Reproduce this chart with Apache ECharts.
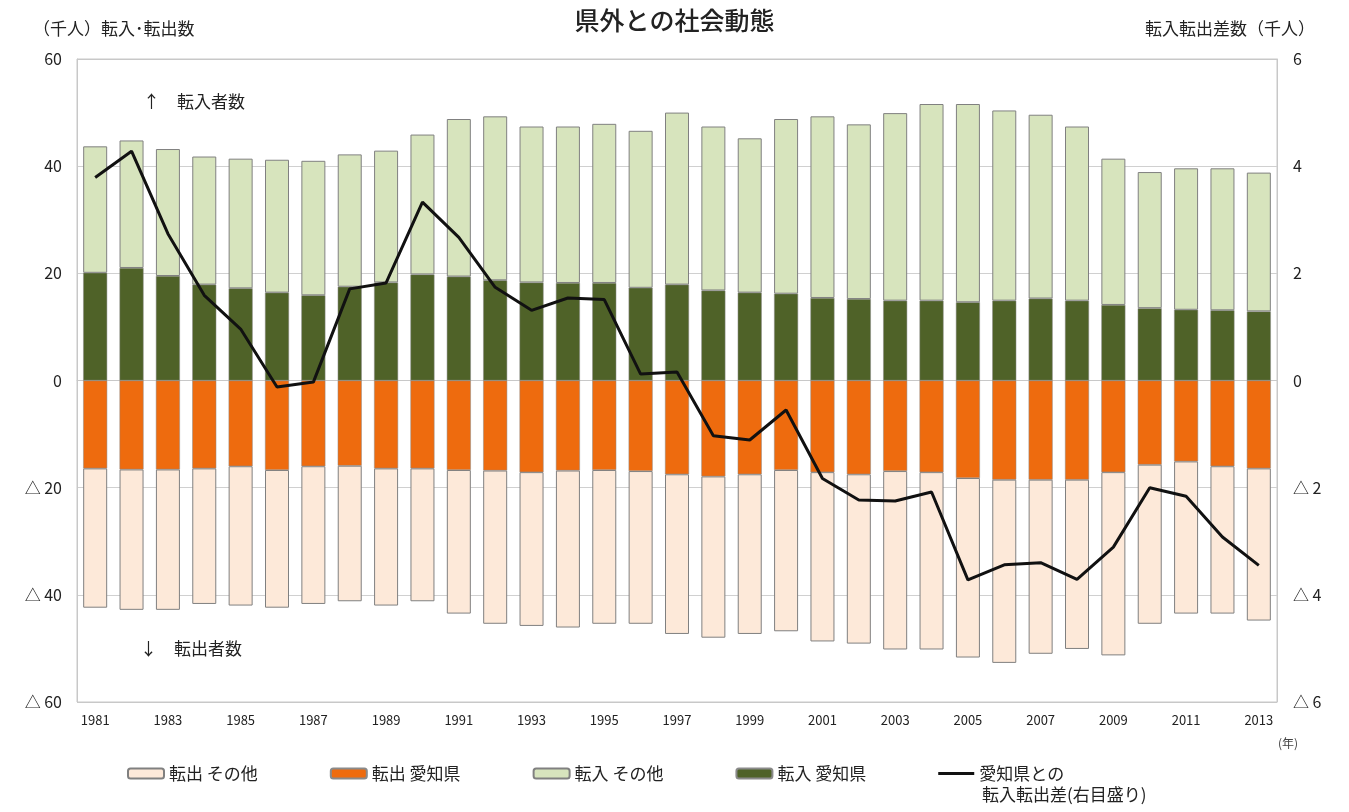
<!DOCTYPE html>
<html>
<head>
<meta charset="utf-8">
<script src="https://cdn.jsdelivr.net/npm/echarts@6/dist/echarts.min.js"></script>
<style>
  html, body { margin: 0; padding: 0; background: #fff; }
  #chart { width: 1349px; height: 812px; }
</style>
</head>
<body>
<div id="chart"></div>
<script>
const years = [
  '1981', '1982', '1983', '1984', '1985', '1986', '1987', '1988', '1989', '1990',
  '1991', '1992', '1993', '1994', '1995', '1996', '1997', '1998', '1999', '2000',
  '2001', '2002', '2003', '2004', '2005', '2006', '2007', '2008', '2009', '2010',
  '2011', '2012', '2013',
]

// 転入 愛知県 (千人)
const inAichi = [
  20.1, 21.0, 19.5, 17.9, 17.2, 16.4, 15.9, 17.5, 18.3, 19.8,
  19.4, 18.7, 18.3, 18.2, 18.2, 17.3, 17.9, 16.8, 16.4, 16.2,
  15.4, 15.2, 14.9, 14.9, 14.6, 14.9, 15.3, 14.9, 14.1, 13.5,
  13.2, 13.1, 12.9,
]
// 転入 その他
const inOther = [
  23.6, 23.8, 23.7, 23.9, 24.2, 24.8, 25.1, 24.7, 24.6, 26.1,
  29.4, 30.6, 29.1, 29.2, 29.7, 29.3, 32.1, 30.6, 28.8, 32.6,
  33.9, 32.6, 35.0, 36.7, 37.0, 35.5, 34.3, 32.5, 27.3, 25.4,
  26.4, 26.5, 25.9,
]
// 転出 愛知県 (negative)
const outAichi = [
  -16.4, -16.6, -16.6, -16.4, -16.0, -16.7, -16.0, -15.9, -16.4, -16.4,
  -16.7, -16.8, -17.1, -16.8, -16.7, -16.9, -17.5, -17.9, -17.5, -16.7,
  -17.1, -17.5, -16.9, -17.1, -18.2, -18.5, -18.5, -18.5, -17.1, -15.7,
  -15.1, -16.0, -16.4,
]
// 転出 その他 (negative)
const outOther = [
  -26.0, -26.2, -26.2, -25.3, -26.0, -25.7, -25.7, -25.3, -25.6, -24.8,
  -26.8, -28.6, -28.7, -29.3, -28.7, -28.5, -29.8, -30.1, -29.8, -30.1,
  -31.6, -31.6, -33.3, -33.1, -33.5, -34.2, -32.5, -31.6, -34.2, -29.7,
  -28.4, -27.5, -28.4,
]
// 愛知県との転入転出差 (右目盛り)
const netAichi = [
  3.79, 4.28, 2.74, 1.59, 0.96, -0.12, -0.03, 1.71, 1.82, 3.33,
  2.67, 1.74, 1.31, 1.54, 1.51, 0.12, 0.16, -1.03, -1.11, -0.55,
  -1.83, -2.23, -2.25, -2.08, -3.72, -3.44, -3.40, -3.71, -3.11, -2.00,
  -2.16, -2.92, -3.45,
]

const FONT = '"Noto Sans CJK JP", "Noto Sans", sans-serif'
const tri = v => (v < 0 ? '△ ' + -v : String(v))

const chart = echarts.init(document.getElementById('chart'))

const barBase = {
  type: 'bar',
  stack: 'total',
  barWidth: '66%',
  animation: false,
}

chart.setOption({
  textStyle: { fontFamily: FONT, color: '#222' },
  title: {
    text: '県外との社会動態',
    left: 'center',
    top: 3,
    textStyle: { fontFamily: FONT, fontSize: 25, fontWeight: 500, color: '#222' },
  },
  grid: {
    left: 77,
    right: 72,
    top: 59,
    bottom: 110,
    show: true,
    borderColor: '#c8c8c8',
    borderWidth: 1,
  },
  legend: {
    left: 122,
    top: 760,
    itemGap: 72,
    itemWidth: 36,
    itemHeight: 10,
    textStyle: { fontFamily: FONT, fontSize: 17, color: '#222' },
    data: [
      { name: '転出 その他' },
      { name: '転出 愛知県' },
      { name: '転入 その他' },
      { name: '転入 愛知県' },
      { name: '愛知県との', icon: 'path://M0,0 L36,0 L36,3 L0,3 Z', itemStyle: { color: '#111' } },
    ],
  },
  xAxis: {
    type: 'category',
    data: years,
    axisLine: { lineStyle: { color: '#c8c8c8' } },
    axisTick: { show: false },
    axisLabel: { interval: 1, color: '#222', fontSize: 13, margin: 12 },
  },
  yAxis: [
    {
      type: 'value',
      min: -60,
      max: 60,
      interval: 20,
      name: '（千人）転入･転出数',
      nameLocation: 'end',
      nameGap: 22,
      nameTextStyle: { align: 'left', padding: [0, 0, 0, -44], fontSize: 17, color: '#222' },
      axisLine: { show: true, lineStyle: { color: '#c8c8c8' } },
      axisTick: { show: false },
      axisLabel: { formatter: tri, color: '#222', fontSize: 16, margin: 15 },
      splitLine: {
        lineStyle: {
          color: ['#c8c8c8', '#d0d0d0', '#d0d0d0', '#f2b8c6', '#d0d0d0', '#d0d0d0', '#c8c8c8'],
          width: 1,
        },
      },
    },
    {
      type: 'value',
      min: -6,
      max: 6,
      interval: 2,
      name: '転入転出差数（千人）',
      nameLocation: 'end',
      nameGap: 22,
      nameTextStyle: { align: 'right', padding: [0, -38, 0, 0], fontSize: 17, color: '#222' },
      axisLine: { show: true, lineStyle: { color: '#c8c8c8' } },
      axisTick: { show: false },
      axisLabel: { formatter: tri, color: '#222', fontSize: 16, margin: 16 },
      splitLine: { show: false },
    },
  ],
  graphic: [
    {
      type: 'text',
      left: 143,
      top: 93,
      style: { text: '↑　転入者数', font: '17px ' + FONT, fill: '#222' },
    },
    {
      type: 'text',
      left: 140,
      top: 640,
      style: { text: '↓　転出者数', font: '17px ' + FONT, fill: '#222' },
    },
    {
      type: 'text',
      left: 1278,
      top: 737,
      style: { text: '(年)', font: '12px ' + FONT, fill: '#444' },
    },
    {
      type: 'text',
      left: 982,
      top: 786,
      style: { text: '転入転出差(右目盛り)', font: '17px ' + FONT, fill: '#222' },
    },
  ],
  series: [
    Object.assign({}, barBase, {
      name: '転出 愛知県',
      data: outAichi,
      itemStyle: { color: '#EE6B0E', borderColor: '#8a8a8a', borderWidth: 0.5 },
    }),
    Object.assign({}, barBase, {
      name: '転出 その他',
      data: outOther,
      itemStyle: { color: '#FDE9D9', borderColor: '#808080', borderWidth: 1 },
    }),
    Object.assign({}, barBase, {
      name: '転入 愛知県',
      data: inAichi,
      itemStyle: { color: '#4F6228', borderColor: '#8a8a8a', borderWidth: 0.5 },
    }),
    Object.assign({}, barBase, {
      name: '転入 その他',
      data: inOther,
      itemStyle: { color: '#D7E4BD', borderColor: '#808080', borderWidth: 1 },
    }),
    {
      name: '愛知県との',
      type: 'line',
      yAxisIndex: 1,
      data: netAichi,
      symbol: 'none',
      lineStyle: { color: '#111', width: 3 },
      itemStyle: { color: '#111' },
      z: 5,
      animation: false,
    },
  ],
})
</script>
</body>
</html>
